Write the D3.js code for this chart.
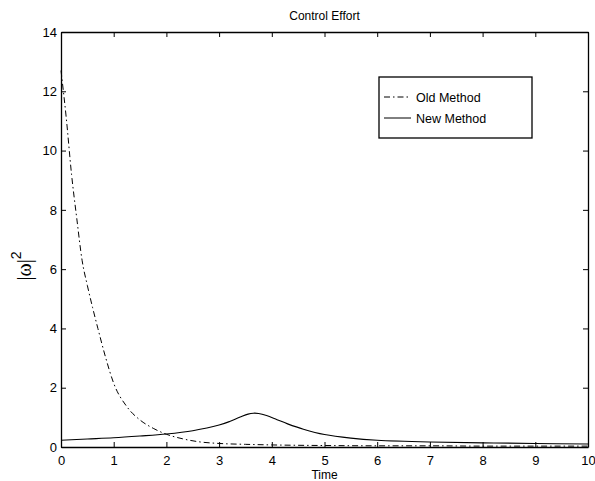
<!DOCTYPE html>
<meta charset="utf-8">
<title>Control Effort</title>
<style>
body { margin: 0; background: #fff; }
svg { display: block; font-family: "Liberation Sans", Arial, sans-serif; }
.axis path, .axis line { stroke: #000; }
.axis text { font-size: 13px; fill: #000; }
</style>
<body>
<svg width="595" height="481"></svg>
<script src="https://d3js.org/d3.v7.min.js"></script>
<script>

// data
var oldTime = [0, 0.1, 0.2, 0.3, 0.4, 0.5, 0.6, 0.7, 0.85, 1.0, 1.25, 1.5, 1.75, 2.0, 2.3, 2.6, 3, 3.5, 4, 5, 6, 7, 8, 9, 10];
var oldVals = [12.7, 11.1, 9.2, 7.7, 6.3, 5.45, 4.7, 4.0, 3.0, 2.15, 1.36, 0.91, 0.63, 0.43, 0.28, 0.18, 0.12, 0.09, 0.07, 0.05, 0.04, 0.04, 0.03, 0.03, 0.03];
var newTime = [0, 0.5, 1, 1.5, 2, 2.5, 3, 3.2, 3.4, 3.55, 3.65, 3.75, 3.9, 4.1, 4.3, 4.6, 5, 5.5, 6, 7, 8, 9, 10];
var newVals = [0.23, 0.27, 0.31, 0.37, 0.44, 0.55, 0.74, 0.86, 1.01, 1.11, 1.14, 1.13, 1.06, 0.92, 0.78, 0.6, 0.42, 0.3, 0.23, 0.17, 0.14, 0.12, 0.1];
var xTicks = [0, 1, 2, 3, 4, 5, 6, 7, 8, 9, 10];
var yTicks = [0, 2, 4, 6, 8, 10, 12, 14];
var seriesNames = ["Old Method", "New Method"];

var svg = d3.select("svg"),
    margin = {top: 32, right: 7, bottom: 34, left: 61},
    width = +svg.attr("width") - margin.left - margin.right,
    height = +svg.attr("height") - margin.top - margin.bottom;

var x = d3.scaleLinear().domain([0, 10]).range([0, width]),
    y = d3.scaleLinear().domain([0, 14]).range([height, 0]);

var g = svg.append("g")
    .attr("transform", "translate(" + margin.left + "," + margin.top + ")");

// curves
var line = d3.line()
    .x(function(d) { return x(d[0]); })
    .y(function(d) { return y(d[1]); })
    .curve(d3.curveMonotoneX);

var oldData = oldTime.map(function(t, i) { return [t, oldVals[i]]; });
var newData = newTime.map(function(t, i) { return [t, newVals[i]]; });

g.append("path")
    .datum(oldData)
    .attr("fill", "none")
    .attr("stroke", "#000")
    .attr("stroke-width", 1)
    .attr("stroke-dasharray", "6,3,1.5,3")
    .attr("d", line);

g.append("path")
    .datum(newData)
    .attr("fill", "none")
    .attr("stroke", "#000")
    .attr("stroke-width", 1.1)
    .attr("d", line.curve(d3.curveCatmullRom.alpha(0.5)));

// axes, ticks pointing inward on all four sides
g.append("g")
    .attr("class", "axis")
    .attr("transform", "translate(0," + height + ")")
    .call(d3.axisBottom(x).tickValues(xTicks).tickSizeInner(-5).tickSizeOuter(0).tickPadding(9));
g.append("g")
    .attr("class", "axis")
    .call(d3.axisTop(x).tickValues(xTicks).tickSizeInner(-5).tickSizeOuter(0).tickFormat(""));
g.append("g")
    .attr("class", "axis")
    .call(d3.axisLeft(y).tickValues(yTicks).tickSizeInner(-5).tickSizeOuter(0).tickPadding(4));
g.append("g")
    .attr("class", "axis")
    .attr("transform", "translate(" + width + ",0)")
    .call(d3.axisRight(y).tickValues(yTicks).tickSizeInner(-5).tickSizeOuter(0).tickFormat(""));

g.selectAll(".axis path").attr("stroke-width", 1.3);
g.selectAll(".axis line").attr("stroke-width", 1);

// title and labels
svg.append("text")
    .attr("x", margin.left + width / 2)
    .attr("y", 20)
    .attr("text-anchor", "middle")
    .style("font-size", "12px")
    .text("Control Effort");

svg.append("text")
    .attr("x", margin.left + width / 2)
    .attr("y", 479)
    .attr("text-anchor", "middle")
    .style("font-size", "12px")
    .text("Time");

var yl = svg.append("text")
    .attr("transform", "translate(31,266) rotate(-90)")
    .attr("text-anchor", "middle")
    .style("font-family", "'Liberation Serif', 'Times New Roman', serif")
    .style("font-size", "20px");
yl.append("tspan").text("|ω|");
yl.append("tspan").attr("dy", -10).style("font-size", "14px")
    .style("font-family", "'Liberation Sans', Arial, sans-serif").text("2");

// legend
var leg = svg.append("g").attr("transform", "translate(379,77)");
leg.append("rect")
    .attr("width", 153).attr("height", 61)
    .attr("fill", "#fff").attr("stroke", "#000").attr("stroke-width", 1.3);
seriesNames.forEach(function(name, i) {
    var yy = 20 + i * 21;
    leg.append("line")
        .attr("x1", 5).attr("x2", 32).attr("y1", yy).attr("y2", yy)
        .attr("stroke", "#000").attr("stroke-width", 1)
        .attr("stroke-dasharray", i === 0 ? "6,3,1.5,3" : null);
    leg.append("text")
        .attr("x", 37).attr("y", yy + 4.5)
        .style("font-size", "12.5px")
        .text(name);
});

</script>
</body>
